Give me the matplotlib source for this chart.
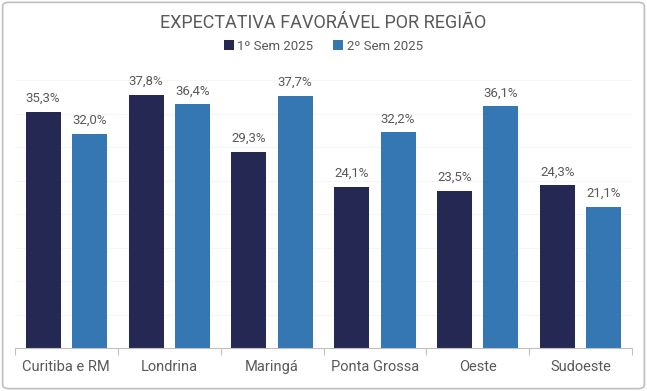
import numpy as np
import matplotlib
matplotlib.use("Agg")
import matplotlib.pyplot as plt
from matplotlib.patches import FancyBboxPatch

# dados
regioes = ["Curitiba e RM", "Londrina", "Maringá", "Ponta Grossa", "Oeste", "Sudoeste"]
sem1 = [35.3, 37.8, 29.3, 24.1, 23.5, 24.3]
sem2 = [32.0, 36.4, 37.7, 32.2, 36.1, 21.1]
series = ["1º Sem 2025", "2º Sem 2025"]

cor1 = "#252852"
cor2 = "#3477B3"
cinza = "#595959"

plt.rcParams['font.family'] = ['Roboto', 'DejaVu Sans']

fig = plt.figure(figsize=(6.47, 3.91), dpi=100)
ax = fig.add_axes([0.023, 0.110, 0.954, 0.685])

x = np.arange(len(regioes))
w = 0.34
b1 = ax.bar(x - 0.225, sem1, w, color=cor1, label=series[0], zorder=2)
b2 = ax.bar(x + 0.225, sem2, w, color=cor2, label=series[1], zorder=2)

for bars in (b1, b2):
    for r in bars:
        ax.annotate(f"{r.get_height():.1f}%".replace(".", ","),
                    (r.get_x() + r.get_width() / 2, r.get_height()),
                    xytext=(0, 5), textcoords="offset points",
                    ha="center", va="bottom", fontsize=9.5, color=cinza)

ax.set_xlim(-0.5, len(regioes) - 0.5)
ax.set_ylim(0, 40)
ax.set_yticks(np.arange(0, 41, 5))
ax.yaxis.grid(True, color="#F5F5F5", linewidth=0.8, zorder=0)
ax.tick_params(axis="y", left=False, labelleft=False)

ax.set_xticks(x)
ax.set_xticklabels(regioes, fontsize=10.5, color=cinza)
ax.tick_params(axis="x", length=0, pad=9)
ax.set_xticks(np.arange(-0.5, len(regioes)), minor=True)
ax.tick_params(axis="x", which="minor", length=5, color="#BFBFBF", width=0.8)

for s in ["top", "right", "left"]:
    ax.spines[s].set_visible(False)
ax.spines["bottom"].set_color("#BFBFBF")

fig.text(0.5, 0.94, "EXPECTATIVA FAVORÁVEL POR REGIÃO", ha="center", va="center",
         fontsize=13, color=cinza)
fig.legend(loc="center", bbox_to_anchor=(0.5, 0.882), ncol=2, frameon=False,
           fontsize=9.5, handlelength=0.7, handleheight=0.7, handletextpad=0.3,
           columnspacing=1.5, labelcolor=cinza)

borda = FancyBboxPatch((0.004, 0.006), 0.992, 0.988, boxstyle="round,pad=0,rounding_size=0.01",
                       transform=fig.transFigure, fill=False, edgecolor="#BFBFBF", linewidth=1.2)
fig.patches.append(borda)

fig.savefig("out.png", dpi=100)
